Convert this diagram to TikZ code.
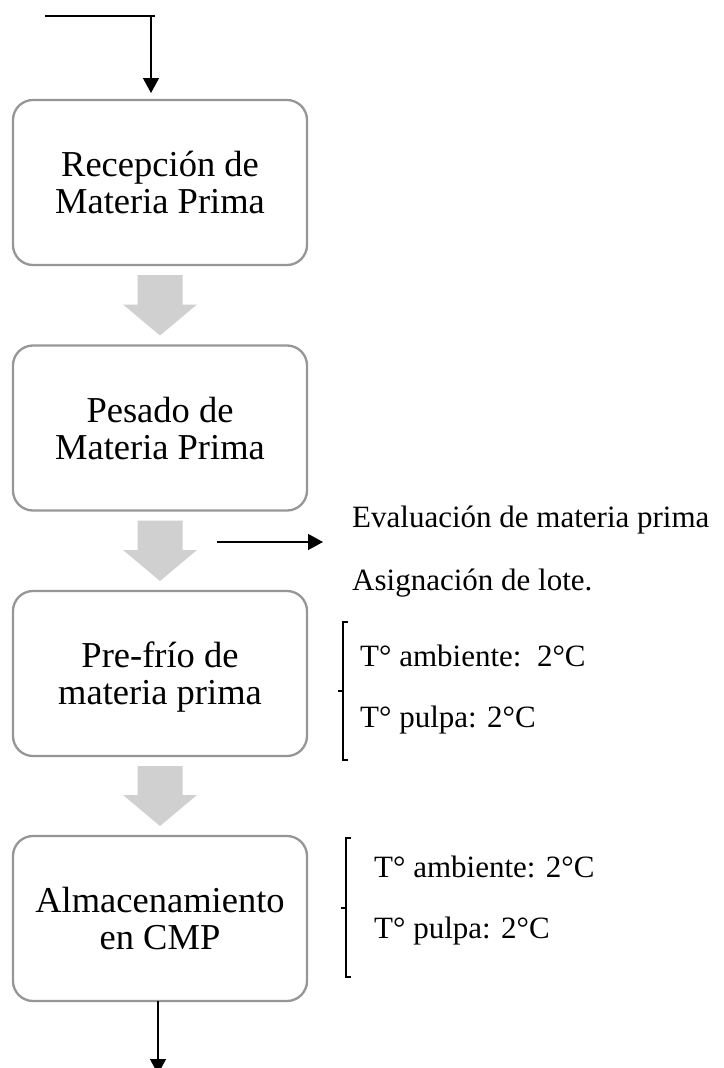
\documentclass[tikz,border=0pt]{standalone}
\usepackage{fontspec}
\setmainfont{Liberation Serif}
\usetikzlibrary{arrows.meta,calc}
\definecolor{boxgray}{RGB}{150,150,150}
\definecolor{arrowgray}{RGB}{208,208,208}
\newcommand\grayarrow[2]{%
  \fill[arrowgray] ($(#1.south)+(-22.5,10)$) -- ($(#1.south)+(22.5,10)$)
    -- ($(#2.north)+(22.5,-41)$) -- ($(#2.north)+(37,-41)$)
    -- ($(#2.north)+(0,-10)$)
    -- ($(#2.north)+(-37,-41)$) -- ($(#2.north)+(-22.5,-41)$) -- cycle;}
\begin{document}
\begin{tikzpicture}[x=1pt,y=-1pt,
  stepbox/.style={draw=boxgray, line width=2.3pt, rounded corners=20pt,
    minimum width=294pt, minimum height=165pt, inner sep=0pt, outer sep=0pt,
    align=center, font=\fontsize{36.5}{37}\selectfont, text depth=0pt},
  blk/.style={black, line width=1.3pt},
  blkarrow/.style={blk, -{Triangle[width=16pt,length=15pt]}},
  side/.style={anchor=base west, inner sep=0pt, font=\fontsize{31}{31}\selectfont}]
\useasboundingbox (0,0) rectangle (723,1068);

\node[stepbox] (b1) at (160,182.5) {Recepción de\\Materia Prima};
\node[stepbox] (b2) at (160,428) {Pesado de\\Materia Prima};
\node[stepbox] (b3) at (160,673.5) {Pre-frío de\\materia prima};
\node[stepbox] (b4) at (160,918.5) {Almacenamiento\\en CMP};

\grayarrow{b1}{b2}
\grayarrow{b2}{b3}
\grayarrow{b3}{b4}

% top entry
\coordinate (s0) at (45,16);
\coordinate (s1) at (155,16);
\coordinate (topc) at (151,16);
\draw[blk] (s0) -- (s1);
\draw[blkarrow, shorten >=7pt] (topc) -- (topc |- b1.north);

% bottom exit
\coordinate (bx) at (158,1001);
\coordinate (endc) at (158,1074);
\draw[blkarrow] (bx) -- (endc);

% side arrow and texts
\coordinate (ea) at (217,542);
\coordinate (eb) at (323,542);
\draw[blkarrow] (ea) -- (eb);
\node[side] (ev) at (352,527) {Evaluación de materia prima};
\node[side] (as) at (352,590) {Asignación de lote.};

% bracket 1
\draw[blk] (348,622) -- (343,622) -- (343,760) -- (348,760);
\draw[blk] (338,691) -- (343,691);
\node[side] (t1) at (360,666) {T° ambiente:\ \ 2°C};
\node[side] (t2) at (360,727) {T° pulpa: 2°C};

% bracket 2
\draw[blk] (351,838) -- (346,838) -- (346,977) -- (351,977);
\draw[blk] (341,908) -- (346,908);
\node[side] (t3) at (374,877) {T° ambiente: 2°C};
\node[side] (t4) at (374,938) {T° pulpa: 2°C};
\end{tikzpicture}
\end{document}
